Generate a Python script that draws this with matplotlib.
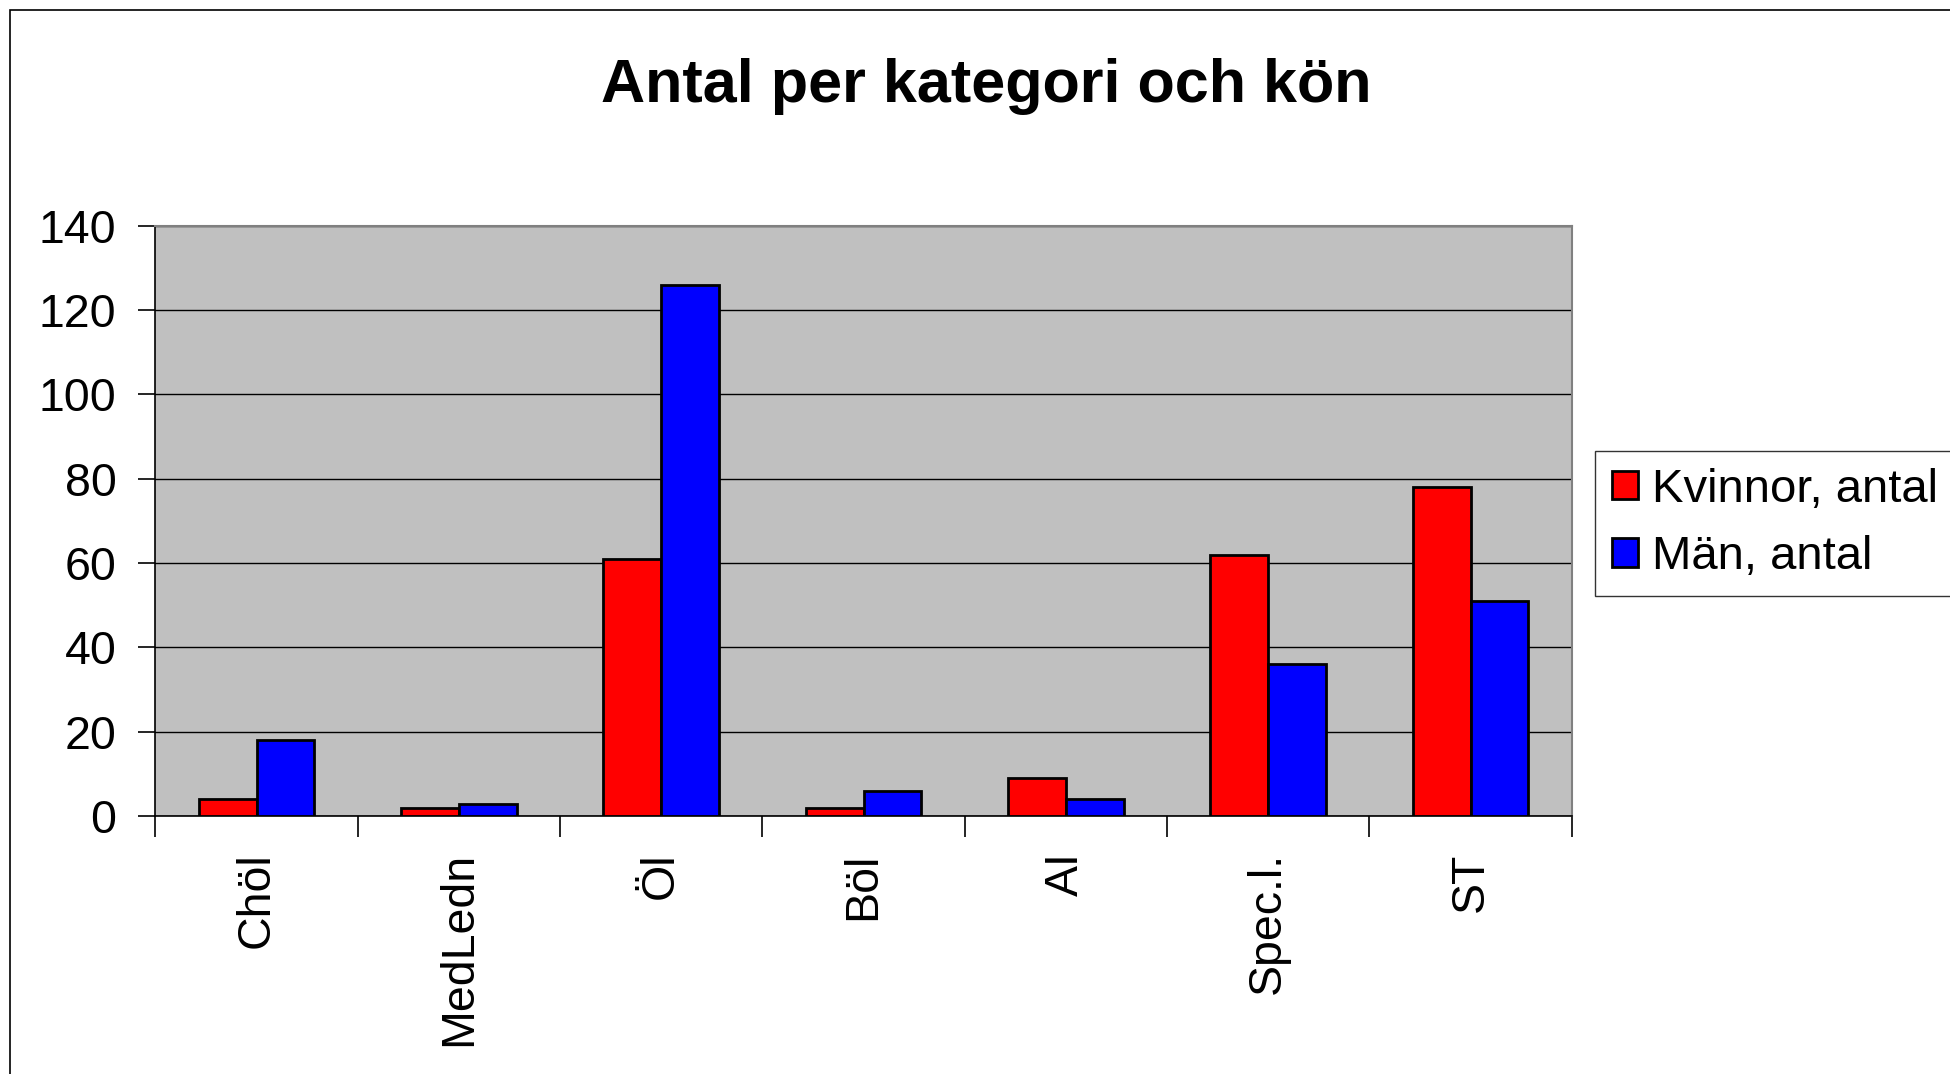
import matplotlib.pyplot as plt
import numpy as np
from matplotlib.patches import Rectangle

plt.rcParams['font.family'] = ['Liberation Sans', 'DejaVu Sans']

kategorier = ['Chöl', 'MedLedn', 'Öl', 'Böl', 'AI', 'Spec.l.', 'ST']
kvinnor = [4, 2, 61, 2, 9, 62, 78]
man = [18, 3, 126, 6, 4, 36, 51]
serier = ['Kvinnor, antal', 'Män, antal']
y_ticks = [0, 20, 40, 60, 80, 100, 120, 140]

fig = plt.figure(figsize=(19.5, 10.74), dpi=100)
ax = fig.add_axes([0.0797, 0.240, 0.7263, 0.550])

x = np.arange(len(kategorier))
w = 2 / 7  # gap width 150%
ax.bar(x - w / 2, kvinnor, w, color='#FF0000', edgecolor='black', linewidth=2.0,
       label=serier[0], zorder=3)
ax.bar(x + w / 2, man, w, color='#0000FF', edgecolor='black', linewidth=2.0,
       label=serier[1], zorder=3)

ax.set_facecolor('#C0C0C0')
ax.set_xlim(-0.5, len(kategorier) - 0.5)
ax.set_ylim(0, 140)
ax.set_yticks(y_ticks)
ax.yaxis.grid(True, color='black', linewidth=1.0, zorder=1)

# category labels between the boundary ticks
ax.set_xticks(np.arange(len(kategorier) + 1) - 0.5)
ax.set_xticklabels([])
ax.set_xticks(x, minor=True)
ax.set_xticklabels(kategorier, minor=True, rotation=90, fontsize=33.5, va='top')
ax.tick_params(axis='x', which='minor', length=0, pad=26)
ax.tick_params(axis='x', which='major', length=15, width=1.2, direction='out')
ax.tick_params(axis='y', length=12, width=1.2, direction='out', labelsize=33.5, pad=16)

for s in ['top', 'right']:
    ax.spines[s].set_color('#808080')
    ax.spines[s].set_linewidth(1.5)
for s in ['left', 'bottom']:
    ax.spines[s].set_color('black')
    ax.spines[s].set_linewidth(1.2)

fig.suptitle('Antal per kategori och kön', x=0.506, y=0.919, fontsize=44,
             fontweight='bold', va='center')

leg = fig.legend(loc='upper left', bbox_to_anchor=(0.818, 0.580), fontsize=34,
                 frameon=True, fancybox=False, handlelength=0.55, handleheight=0.55,
                 handletextpad=0.3, labelspacing=0.5, borderpad=0.35,
                 borderaxespad=0)
leg.get_frame().set_edgecolor('black')
leg.get_frame().set_linewidth(1.0)

# outer chart border
fig.patches.append(Rectangle((0.005, -0.1), 2, 1.0907, transform=fig.transFigure,
                             fill=False, edgecolor='black', linewidth=1.2))

fig.savefig('out.png', dpi=100)
